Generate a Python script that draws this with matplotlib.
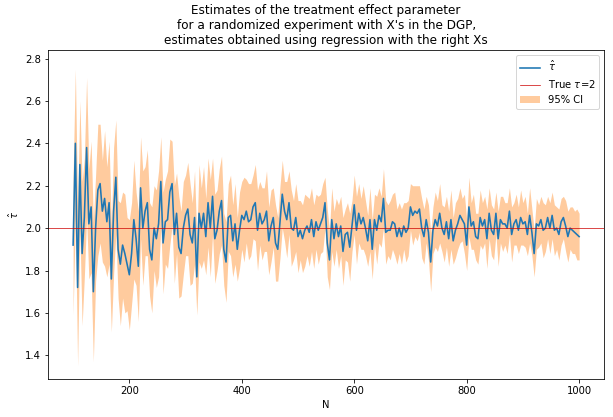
import numpy as np
import matplotlib
matplotlib.use("Agg")
import matplotlib.pyplot as plt

# sample sizes on the x axis
N = np.arange(100, 1001, 4)

# estimated treatment effect for each N
tau_hat = [
    1.92, 2.40, 1.72, 2.30, 1.88, 2.05, 2.38, 2.02, 2.10, 1.70,
    2.00, 2.18, 2.21, 2.08, 2.14, 2.03, 2.12, 1.76, 2.08, 2.24,
    1.90, 1.83, 1.92, 1.88, 1.83, 1.78, 1.88, 2.04, 1.95, 1.82,
    2.19, 2.00, 2.08, 2.12, 1.90, 1.85, 2.00, 1.95, 2.02, 2.22,
    1.93, 2.03, 2.04, 2.17, 2.21, 1.97, 2.07, 1.91, 1.88, 2.00,
    2.06, 2.09, 1.97, 1.93, 2.05, 1.77, 2.07, 2.00, 2.07, 1.96,
    2.12, 2.00, 2.15, 1.95, 1.99, 2.08, 2.13, 1.90,
    1.84, 2.05, 2.06, 1.94, 2.02, 1.90, 1.99, 2.06, 2.04, 2.08,
    2.03, 2.04, 2.10, 2.12, 1.99, 2.07, 2.02, 2.04, 2.08, 1.94,
    2.01, 2.05, 1.93, 1.90, 2.03, 2.16, 2.08, 2.04, 2.12, 2.00,
    1.99, 2.05, 1.96, 1.99, 1.95, 1.99, 2.01, 1.98, 2.04,
    1.96, 2.03, 1.99, 2.02, 2.05, 2.12, 1.93, 1.85, 2.04, 1.95,
    2.02, 1.96, 2.01, 1.89, 1.97, 1.98, 1.91, 2.01, 2.11, 1.99,
    2.07, 2.02, 2.05, 2.00, 1.94, 2.04, 1.90, 2.04, 1.99, 2.06,
    2.03, 2.14, 1.98, 1.99, 1.99, 2.03, 2.02, 1.96, 2.00,
    1.96, 2.01, 1.98, 2.00, 2.10, 2.06, 2.08, 2.07, 2.09, 2.00,
    1.96, 2.04, 1.98, 1.84, 1.99, 2.04, 2.01, 2.07, 2.00, 1.97,
    2.03, 1.95, 2.04, 1.94, 1.99, 2.02, 2.06, 2.04, 2.02, 1.92,
    2.10, 2.01, 2.03, 1.96, 1.95, 2.05, 2.01, 2.04, 1.95, 2.07,
    1.99,
    1.97, 2.07, 1.95, 2.04, 2.02, 2.02, 2.00, 2.08, 1.97, 2.02,
    2.04, 1.99, 2.05, 2.02, 2.03, 1.97, 2.06, 1.98, 1.88, 2.02,
    2.01, 2.04, 1.99, 2.00, 2.05, 2.00, 2.06, 1.99, 2.00, 1.97,
    2.03, 2.05, 2.01, 1.96, 2.00, 1.99, 1.98, 1.97, 1.96,
]

# half width of the 95% interval
ci_half = [
    0.33, 0.35, 0.37, 0.30, 0.34, 0.28, 0.33, 0.26, 0.31, 0.33,
    0.25, 0.31, 0.28, 0.24, 0.32, 0.26, 0.29, 0.25, 0.30, 0.27,
    0.23, 0.29, 0.25, 0.28, 0.22, 0.26, 0.24, 0.28, 0.22, 0.26,
    0.24, 0.27, 0.21, 0.25, 0.22, 0.25, 0.20, 0.23, 0.25, 0.21,
    0.24, 0.20, 0.23, 0.25, 0.20, 0.23, 0.19, 0.24, 0.20, 0.22,
    0.19, 0.22, 0.24, 0.19, 0.22, 0.18, 0.23, 0.19, 0.22, 0.18,
    0.21, 0.23, 0.18, 0.21, 0.19, 0.20, 0.21, 0.17,
    0.19, 0.16, 0.19, 0.17, 0.19, 0.15, 0.18, 0.16, 0.20, 0.15,
    0.18, 0.17, 0.15, 0.18, 0.19, 0.15, 0.17, 0.15, 0.19, 0.16,
    0.17, 0.14, 0.18, 0.15, 0.17, 0.16, 0.14, 0.18, 0.15, 0.18,
    0.14, 0.16, 0.17, 0.14, 0.16, 0.17, 0.14, 0.16, 0.15,
    0.15, 0.13, 0.16, 0.14, 0.16, 0.12, 0.16, 0.14, 0.15, 0.13,
    0.12, 0.15, 0.14, 0.16, 0.12, 0.14, 0.16, 0.12, 0.14, 0.16,
    0.14, 0.12, 0.15, 0.13, 0.12, 0.15, 0.14, 0.12, 0.16, 0.13,
    0.12, 0.14, 0.15, 0.12, 0.14, 0.13, 0.15, 0.13, 0.12,
    0.13, 0.11, 0.14, 0.13, 0.11, 0.14, 0.12, 0.13, 0.11, 0.14,
    0.13, 0.11, 0.13, 0.14, 0.11, 0.13, 0.12, 0.14, 0.11, 0.13,
    0.12, 0.13, 0.14, 0.11, 0.13, 0.12, 0.13, 0.10, 0.14, 0.12,
    0.14, 0.11, 0.13, 0.11, 0.12, 0.13, 0.11, 0.11, 0.14, 0.12,
    0.12,
    0.12, 0.10, 0.13, 0.11, 0.13, 0.10, 0.12, 0.11, 0.13, 0.10,
    0.12, 0.11, 0.13, 0.10, 0.12, 0.10, 0.13, 0.11, 0.11, 0.12,
    0.10, 0.11, 0.13, 0.11, 0.10, 0.12, 0.11, 0.12, 0.10, 0.12,
    0.11, 0.10, 0.12, 0.12, 0.10, 0.11, 0.10, 0.12, 0.11,
]

true_tau = 2

tau_hat = np.array(tau_hat)
ci_half = np.array(ci_half)
lower = tau_hat - ci_half
upper = tau_hat + ci_half

fig = plt.figure(figsize=(613 / 72, 417 / 72), dpi=72)
ax = fig.add_axes([0.078, 0.09, 0.908, 0.79])

ax.plot(N, tau_hat, color="C0", lw=1.6, label=r"$\hat{\tau}$")
ax.axhline(true_tau, color="#cc0000", lw=0.7, label=r"True $\tau$=2")
ax.fill_between(N, lower, upper, color="C1", alpha=0.4, lw=0, label="95% CI")

ax.set_ylim(1.286, 2.84)
ax.set_xticks([200, 400, 600, 800, 1000])
ax.set_yticks([1.4, 1.6, 1.8, 2.0, 2.2, 2.4, 2.6, 2.8])
ax.set_xlabel("N")
ax.set_ylabel(r"$\hat{\tau}$")
ax.set_title("Estimates of the treatment effect parameter\n"
             "for a randomized experiment with X's in the DGP,\n"
             "estimates obtained using regression with the right Xs")
ax.legend(loc="upper right")

fig.savefig("out.png", dpi=72)
